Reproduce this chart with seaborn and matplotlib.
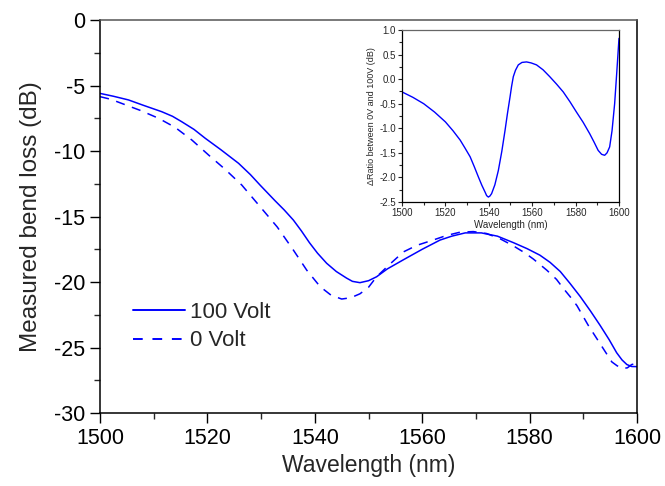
import numpy as np
import pandas as pd
import matplotlib
matplotlib.use("Agg")
import matplotlib.pyplot as plt
from matplotlib.ticker import MultipleLocator, FormatStrFormatter
import seaborn as sns

# main curves: measured bend loss (dB) vs wavelength (nm)
wl_100v = [1500, 1502.5, 1505.3, 1508, 1511.5, 1513.5, 1515.2, 1517.5, 1519.6,
           1522.5, 1525.8, 1528, 1529.8, 1532.6, 1534.3, 1536.0, 1537.5, 1539.0,
           1540.5, 1542.2, 1544, 1545.9, 1547, 1548.4, 1550, 1551.5, 1553.5,
           1556.5, 1560, 1563.3, 1565.5, 1568.0, 1571.0, 1574, 1577.0, 1579.5,
           1581.9, 1583.8, 1585.7, 1587.5, 1589.4, 1591.3, 1593.1, 1594.8,
           1596.2, 1597.2, 1598.1, 1599, 1600]
loss_100v = [-5.6, -5.82, -6.1, -6.5, -7.0, -7.35, -7.76, -8.35, -9.03,
             -9.9, -10.94, -11.8, -12.6, -13.8, -14.5, -15.27, -16.1, -17.0,
             -17.8, -18.57, -19.2, -19.7, -19.95, -20.05, -19.9, -19.6, -19.0,
             -18.3, -17.5, -16.8, -16.5, -16.25, -16.25, -16.5, -17.0, -17.45,
             -17.95, -18.5, -19.2, -20.1, -21.1, -22.2, -23.3, -24.4,
             -25.4, -25.95, -26.3, -26.45, -26.46]

wl_0v = [1500, 1502, 1504.0, 1507.5, 1510.9, 1514, 1517.1, 1520.2, 1523.3,
         1526.4, 1529.5, 1533, 1536.0, 1538.5, 1541.0, 1543.0, 1545.0, 1546.7,
         1548.4, 1550, 1551.5, 1553.8, 1556.5, 1559, 1562.0, 1564.5, 1567.0,
         1569.5, 1572.0, 1574.5, 1577.0, 1579, 1580.7, 1583.2, 1585, 1586.3,
         1587.5, 1588.8, 1590.9, 1592, 1593.1, 1594.2, 1595.3, 1596.3, 1597.4,
         1598.2, 1599.0, 1600]
loss_0v = [-5.85, -6.05, -6.36, -6.9, -7.5, -8.2, -9.16, -10.3, -11.4,
           -12.6, -14.1, -15.8, -17.56, -19.1, -20.36, -21.0, -21.3, -21.2,
           -20.9, -20.4, -19.6, -18.7, -17.7, -17.2, -16.8, -16.45, -16.2,
           -16.15, -16.3, -16.7, -17.25, -17.75, -18.25, -19.1, -19.8, -20.5,
           -21.1, -21.8, -23.3, -24.0, -24.7, -25.4, -26.1, -26.4, -26.6,
           -26.55, -26.3, -26.2]

# inset: difference between 0 V and 100 V
wl_ratio = [1500, 1505, 1510, 1515, 1520, 1523.5, 1526.8, 1529, 1531.4, 1533.3,
            1535.2, 1536.8, 1538.3, 1539, 1539.8, 1540.5, 1541.3, 1542.8, 1544.4,
            1546, 1547.5, 1548.6, 1549.8, 1550.5, 1551.3, 1552.3, 1553.6, 1555.3,
            1557.4, 1559.5, 1562.0, 1565, 1568.1, 1571.2, 1574.3, 1577.4, 1580.4,
            1583.5, 1586.5, 1588.5, 1590.4, 1592, 1593.4, 1594.5, 1595.7, 1596.8,
            1598.0, 1599, 1600]
ratio = [-0.26, -0.37, -0.50, -0.67, -0.87, -1.05, -1.24, -1.40, -1.58, -1.78,
         -1.99, -2.16, -2.30, -2.37, -2.40, -2.38, -2.33, -2.15, -1.86,
         -1.47, -1.04, -0.70, -0.36, -0.15, 0.05, 0.18, 0.29, 0.34,
         0.35, 0.33, 0.29, 0.19, 0.05, -0.10, -0.26, -0.46, -0.67,
         -0.88, -1.11, -1.28, -1.45, -1.53, -1.55, -1.50, -1.38, -1.05,
         -0.50, 0.15, 0.83]

sns.set_theme(style="ticks")
plt.rcParams['font.family'] = ['Liberation Sans', 'DejaVu Sans']
plt.rcParams['axes.unicode_minus'] = False

blue = '#0000ff'

fig = plt.figure(figsize=(6.65, 4.86), dpi=100)
ax = fig.add_axes([0.1504, 0.1502, 0.8076, 0.8086])

df_100 = pd.DataFrame({'wl': wl_100v, 'loss': loss_100v})
df_0 = pd.DataFrame({'wl': wl_0v, 'loss': loss_0v})
sns.lineplot(data=df_100, x='wl', y='loss', ax=ax, color=blue, lw=1.1,
             label='100 Volt', sort=False)
sns.lineplot(data=df_0, x='wl', y='loss', ax=ax, color=blue, lw=1.1,
             label='0 Volt', sort=False)
ax.lines[1].set_dashes((6, 5))

ax.set_xlim(1500, 1600)
ax.set_ylim(-30, 0)
ax.xaxis.set_major_locator(MultipleLocator(20))
ax.xaxis.set_minor_locator(MultipleLocator(10))
ax.yaxis.set_major_locator(MultipleLocator(5))
ax.yaxis.set_minor_locator(MultipleLocator(2.5))
ax.tick_params(which='major', direction='out', length=7, width=1, labelsize=15.5,
               colors='black')
ax.tick_params(which='minor', direction='out', length=4, width=1)
ax.set_xlabel('Wavelength (nm)', fontsize=16.5, labelpad=4)
ax.set_ylabel('Measured bend loss (dB)', fontsize=17.5, labelpad=9)
for side in ['left', 'bottom', 'right']:
    ax.spines[side].set_color('black')
    ax.spines[side].set_linewidth(1.1)
ax.spines['top'].set_color('#555555')
ax.spines['top'].set_linewidth(1.1)

leg = ax.legend(loc='center left', bbox_to_anchor=(0.045, 0.22), frameon=False,
                fontsize=16, handlelength=2.35, handletextpad=0.2,
                labelspacing=0.35, borderaxespad=0)
for h in leg.get_lines():
    h.set_linewidth(1.4)
leg.get_lines()[1].set_dashes((5, 5))

# inset
ins = fig.add_axes([0.6045, 0.5844, 0.3263, 0.3539])
df_r = pd.DataFrame({'wl': wl_ratio, 'ratio': ratio})
sns.lineplot(data=df_r, x='wl', y='ratio', ax=ins, color=blue, lw=1.0, sort=False)
ins.set_xlim(1500, 1600)
ins.set_ylim(-2.5, 1.0)
ins.xaxis.set_major_locator(MultipleLocator(20))
ins.xaxis.set_minor_locator(MultipleLocator(10))
ins.yaxis.set_major_locator(MultipleLocator(0.5))
ins.yaxis.set_minor_locator(MultipleLocator(0.25))
ins.yaxis.set_major_formatter(FormatStrFormatter('%.1f'))
ins.tick_params(which='major', direction='out', length=3, width=0.8, labelsize=7,
                pad=1.5)
ins.tick_params(which='minor', direction='out', length=2, width=0.8)
ins.set_xlabel('Wavelength (nm)', fontsize=7, labelpad=1)
ins.set_ylabel('\u0394Ratio between 0V and 100V (dB)', fontsize=6.5, labelpad=2)
for side in ['left', 'bottom', 'right']:
    ins.spines[side].set_color('black')
    ins.spines[side].set_linewidth(0.9)
ins.spines['top'].set_color('#666666')
ins.spines['top'].set_linewidth(0.9)

fig.savefig('out.png', dpi=100)
